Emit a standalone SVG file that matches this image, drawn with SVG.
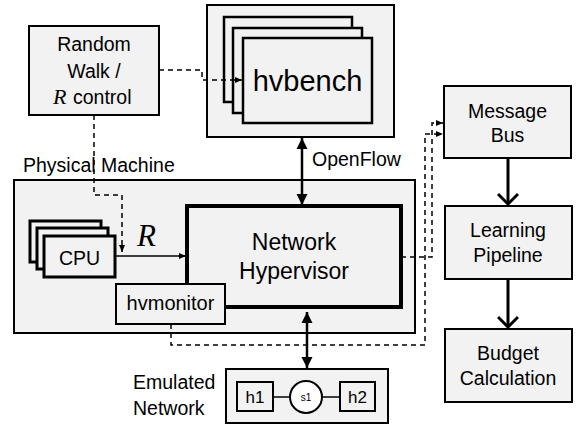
<svg xmlns="http://www.w3.org/2000/svg" width="580" height="428" viewBox="0 0 580 428">
<defs>
<style>
.box{fill:#f2f2f2;stroke:#000;stroke-width:2}
.stk{fill:#f2f2f2;stroke:#000;stroke-width:2.5}
.cpu{fill:#f2f2f2;stroke:#000;stroke-width:3}
.t{font-family:"Liberation Sans",Arial,sans-serif;font-size:19.5px;fill:#000;text-anchor:middle}
.l{text-anchor:start}
.it{font-family:"Liberation Serif","Times New Roman",serif;font-style:italic}
.dash{fill:none;stroke:#000;stroke-width:1.5;stroke-dasharray:5,4}
.thin{fill:none;stroke:#000;stroke-width:1.5}
.thick{fill:none;stroke:#000;stroke-width:3}
</style>
<marker id="sm" markerUnits="userSpaceOnUse" markerWidth="8" markerHeight="8" refX="7" refY="4" orient="auto">
<path d="M0,1 L7,4 L0,7 Z" fill="#000"/>
</marker>
<marker id="tri" markerUnits="userSpaceOnUse" markerWidth="12" markerHeight="12" refX="11" refY="6" orient="auto-start-reverse">
<path d="M0,0.5 L11,6 L0,11.5 Z" fill="#000"/>
</marker>
<marker id="chev" markerUnits="userSpaceOnUse" markerWidth="14" markerHeight="22" refX="12" refY="11" orient="auto">
<path d="M2,1 L12,11 L2,21" fill="none" stroke="#000" stroke-width="3"/>
</marker>
</defs>
<rect width="580" height="428" fill="#fff"/>

<g id="physical-machine">
<rect class="box" x="14" y="180" width="401" height="153"/>
<text class="t l" x="23" y="172">Physical Machine</text>
</g>

<g id="random-walk">
<rect class="box" x="29" y="26" width="130" height="89"/>
<text class="t" x="94" y="51">Random</text>
<text class="t" x="94" y="78">Walk /</text>
<text class="t l" y="104"><tspan class="it" x="53" style="font-size:22px">R</tspan><tspan x="73">control</tspan></text>
</g>

<g id="hvbench">
<rect class="box" x="207" y="5" width="187" height="132"/>
<rect class="stk" x="224" y="17" width="128" height="85"/>
<rect class="stk" x="233" y="28" width="129" height="85"/>
<rect class="stk" x="243" y="38" width="129" height="85"/>
<text class="t" x="307.5" y="91" style="font-size:29px">hvbench</text>
</g>

<g id="network-hypervisor">
<rect x="187" y="206" width="214" height="101" fill="#f2f2f2" stroke="#000" stroke-width="4"/>
<text class="t" x="294" y="250" style="font-size:23px">Network</text>
<text class="t" x="294" y="279" style="font-size:23px">Hypervisor</text>
</g>

<g id="cpu">
<rect class="cpu" x="30" y="221" width="71" height="41"/>
<rect class="cpu" x="37" y="228" width="71" height="41"/>
<rect class="cpu" x="44" y="236" width="71" height="41"/>
<text class="t" x="79.5" y="265">CPU</text>
</g>

<g id="hvmonitor">
<rect class="box" x="116" y="284" width="109" height="40"/>
<text class="t" x="170.5" y="310" style="font-size:20px">hvmonitor</text>
</g>

<g id="message-bus">
<rect class="box" x="444" y="86" width="127" height="72"/>
<text class="t" x="507.5" y="118">Message</text>
<text class="t" x="507.5" y="142">Bus</text>
</g>

<g id="learning-pipeline">
<rect class="box" x="445" y="206" width="127" height="73"/>
<text class="t" x="508" y="237">Learning</text>
<text class="t" x="508" y="262">Pipeline</text>
</g>

<g id="budget-calculation">
<rect class="box" x="445" y="329" width="127" height="73"/>
<text class="t" x="508" y="360">Budget</text>
<text class="t" x="508" y="385">Calculation</text>
</g>

<g id="emulated-network">
<rect class="box" x="226" y="369" width="162" height="54"/>
<line x1="273" y1="397" x2="290" y2="397" stroke="#000" stroke-width="1.5"/>
<line x1="322" y1="397" x2="340" y2="397" stroke="#000" stroke-width="1.5"/>
<rect class="box" x="237" y="382" width="36" height="29"/>
<rect class="box" x="340" y="382" width="35" height="29"/>
<circle cx="306" cy="397" r="16" fill="#fff" stroke="#000" stroke-width="2"/>
<text class="t" x="255" y="403" style="font-size:17px">h1</text>
<text class="t" x="357.5" y="403" style="font-size:17px">h2</text>
<text class="t" x="306" y="401" style="font-size:10px">s1</text>
<text class="t l" x="133" y="389">Emulated</text>
<text class="t l" x="133" y="415">Network</text>
</g>

<g id="connectors">
<path class="dash" d="M159,70 H202 V80 H242" marker-end="url(#sm)"/>
<path class="dash" d="M94,115 V195 H122 V252" marker-end="url(#sm)"/>
<path class="thin" d="M115,256 H186" marker-end="url(#sm)"/>
<text class="t it l" x="137" y="246" style="font-size:31px">R</text>
<path d="M302,138 V205" stroke="#000" stroke-width="2.5" fill="none" marker-start="url(#tri)" marker-end="url(#tri)"/>
<text class="t l" x="312" y="166">OpenFlow</text>
<path d="M307,312 V368" stroke="#000" stroke-width="2.5" fill="none" marker-start="url(#tri)" marker-end="url(#tri)"/>
<path class="dash" d="M401,257 H432 V123 H443" marker-end="url(#sm)"/>
<path class="dash" d="M171,324 V345 H425 V134 H443" marker-end="url(#sm)"/>
<path class="thick" d="M508,158 V204" marker-end="url(#chev)"/>
<path class="thick" d="M508,279 V327" marker-end="url(#chev)"/>
</g>
</svg>
